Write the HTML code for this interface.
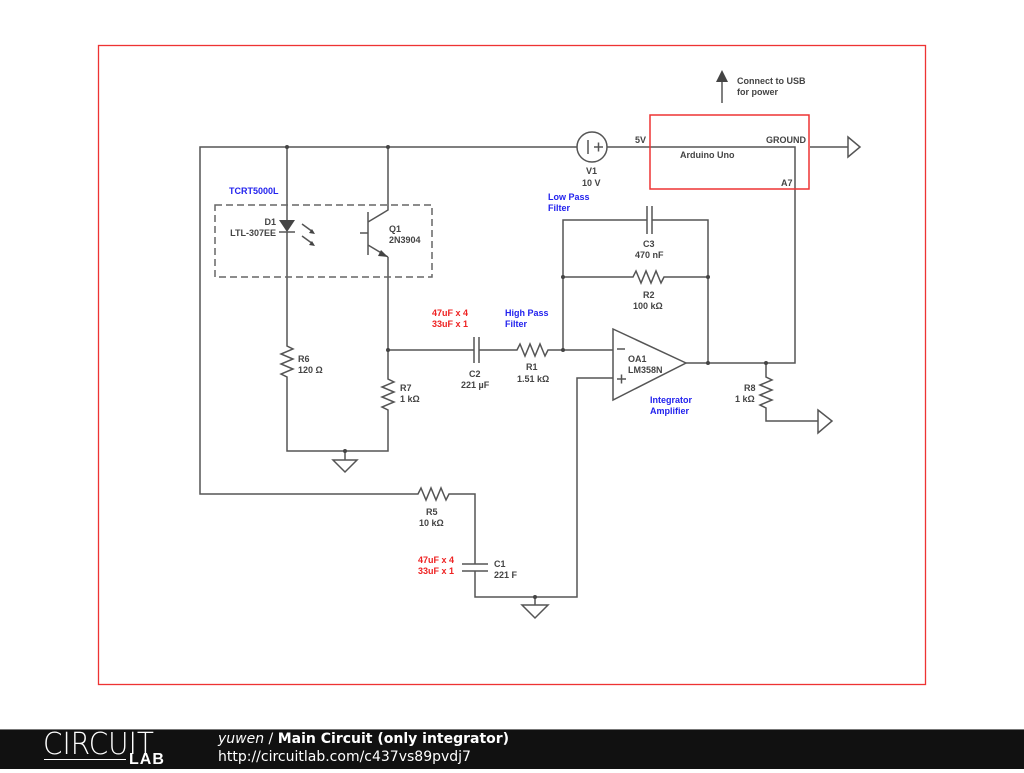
<!DOCTYPE html>
<html><head><style>
body{margin:0;width:1024px;height:768px;overflow:hidden;background:#fff;font-family:"Liberation Sans",sans-serif}
svg text{font-family:"Liberation Sans",sans-serif;font-size:9px;font-weight:bold;fill:#444}
.b{fill:#2222ee}.r{fill:#ee2222}
</style></head><body>
<svg width="1024" height="768" viewBox="0 0 1024 768">
<rect x="98.5" y="45.5" width="827" height="639" fill="none" stroke="#e33" stroke-width="1.3"/>
<g stroke="#555" stroke-width="1.5" fill="none">
<path d="M577 147H200V494H418l3-6 5 12 5-12 5 12 5-12 5 12 3-6H475V564M475 571V597H577V378H613"/>
<path d="M462 564H488M462 571H488"/>
<path d="M535 597V605M522 605H548L535 618Z"/>
<circle cx="592" cy="147" r="15"/>
<path d="M588 140V154M594 147H603M598.5 142.5V151.5"/>
<path d="M607 147H795V363H686"/>
<path d="M810 147H848M848 137L860 147L848 157Z"/>
<path d="M722 103V82"/>
<path d="M287 147V220M287 232V346l6 3-12 5 12 5-12 5 12 5-12 5 6 3V451H388V410l-6-3 12-5-12-5 12-5-12-5 12-5-6-3V257"/>
<path d="M279 232H295"/>
<path d="M302 224L313 232M302 236L313 244"/>
<path d="M388 147V210L368 222M368 212V255M360 233H368M368 245L388 257"/>
<path d="M345 451V460M333 460H357L345 472Z"/>
<path d="M388 350H474M479 350H517l3-6 5 12 5-12 5 12 5-12 5 12 3-6H613"/>
<path d="M474 337V363M479 337V363"/>
<path d="M563 350V220H647M652 220H708V363M647 206V234M652 206V234"/>
<path d="M563 277H633l3-6 5 12 5-12 5 12 5-12 5 12 3-6H708"/>
<path d="M613 329V400L686 363Z"/>
<path d="M617 349H625M617 379H626M621.5 374.5V383.5"/>
<path d="M766 363V377l6 3-12 5 12 5-12 5 12 5-12 5 6 3V421H818M818 410L832 421L818 433Z"/>
</g>
<g fill="#444">
<path d="M716 82L722 70L728 82Z"/>
<path d="M279 220H295L287 232Z"/>
<path d="M315 234L309 233L312 229Z"/><path d="M315 246L309 245L312 241Z"/>
<path d="M381 250L388 257L378 256Z"/>
<circle cx="287" cy="147" r="2"/><circle cx="388" cy="147" r="2"/><circle cx="388" cy="350" r="2"/>
<circle cx="345" cy="451" r="2"/><circle cx="563" cy="350" r="2"/><circle cx="563" cy="277" r="2"/>
<circle cx="708" cy="277" r="2"/><circle cx="708" cy="363" r="2"/><circle cx="766" cy="363" r="2"/><circle cx="535" cy="597" r="2"/>
</g>
<rect x="215" y="205" width="217" height="72" fill="none" stroke="#666" stroke-width="1.5" stroke-dasharray="7,4"/>
<rect x="650" y="115" width="159" height="74" fill="none" stroke="#e33" stroke-width="1.5"/>
<text x="737" y="84">Connect to USB</text><text x="737" y="95">for power</text>
<text x="635" y="143">5V</text><text x="766" y="143">GROUND</text><text x="680" y="158">Arduino Uno</text><text x="781" y="186">A7</text>
<text x="586" y="174">V1</text><text x="582" y="186">10 V</text>
<text class="b" x="548" y="200">Low Pass</text><text class="b" x="548" y="211">Filter</text>
<text class="b" x="229" y="194">TCRT5000L</text>
<text x="276" y="225" text-anchor="end">D1</text><text x="276" y="236" text-anchor="end">LTL-307EE</text>
<text x="389" y="232">Q1</text><text x="389" y="243">2N3904</text>
<text x="643" y="247">C3</text><text x="635" y="258">470 nF</text>
<text x="643" y="298">R2</text><text x="633" y="309">100 kΩ</text>
<text class="r" x="432" y="316">47uF x 4</text><text class="r" x="432" y="327">33uF x 1</text>
<text class="b" x="505" y="316">High Pass</text><text class="b" x="505" y="327">Filter</text>
<text x="298" y="362">R6</text><text x="298" y="373">120 Ω</text>
<text x="400" y="391">R7</text><text x="400" y="402">1 kΩ</text>
<text x="469" y="377">C2</text><text x="461" y="388">221 µF</text>
<text x="526" y="370">R1</text><text x="517" y="382">1.51 kΩ</text>
<text x="628" y="362">OA1</text><text x="628" y="373">LM358N</text>
<text class="b" x="650" y="403">Integrator</text><text class="b" x="650" y="414">Amplifier</text>
<text x="744" y="391">R8</text><text x="735" y="402">1 kΩ</text>
<text x="426" y="515">R5</text><text x="419" y="526">10 kΩ</text>
<text class="r" x="418" y="563">47uF x 4</text><text class="r" x="418" y="574">33uF x 1</text>
<text x="494" y="567">C1</text><text x="494" y="578">221 F</text>
</svg>
<div style="position:absolute;left:0;top:729px;width:1024px;height:39px;background:#111;border-top:1px solid #777"></div>
<div style="position:absolute;left:43px;top:727px;color:#fff;font-size:30px;letter-spacing:0px;font-family:'DejaVu Sans',sans-serif;font-weight:200;transform:scaleX(0.93);transform-origin:left">CIRCUIT</div>
<div style="position:absolute;left:44px;top:759px;width:82px;border-top:1px solid #fff"></div>
<div style="position:absolute;left:129px;top:751px;color:#fff;font-size:16px;font-weight:bold;letter-spacing:1px">LAB</div>
<div style="position:absolute;left:218px;top:731px;color:#fff;font-size:14px;font-family:'DejaVu Sans',sans-serif"><i>yuwen</i> / <b>Main Circuit (only integrator)</b></div>
<div style="position:absolute;left:218px;top:749px;color:#fff;font-size:14px;font-family:'DejaVu Sans',sans-serif">http://circuitlab.com/c437vs89pvdj7</div>
</body></html>
